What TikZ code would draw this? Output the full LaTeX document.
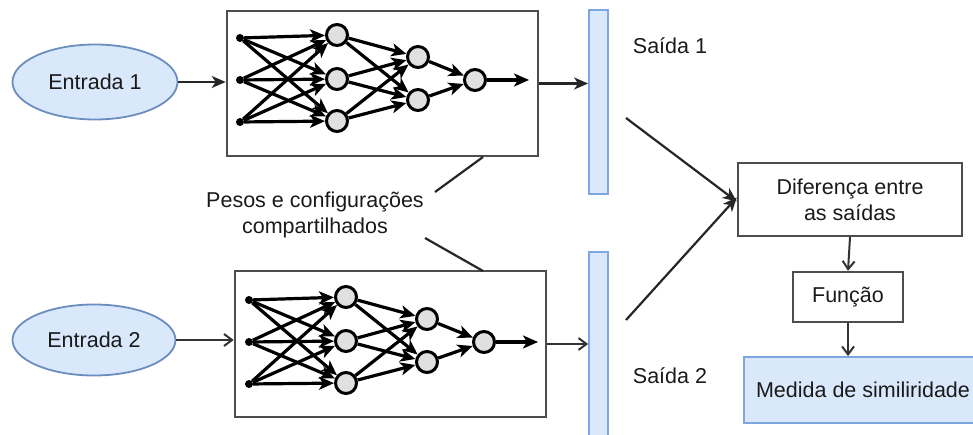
\documentclass[tikz,border=0pt]{standalone}
\usepackage{fontspec}
\setmainfont{Liberation Sans}
\usetikzlibrary{arrows.meta,shapes.geometric}
\definecolor{lblue}{HTML}{DAE8FC}
\definecolor{bblue}{HTML}{7EA6E0}
\definecolor{eblue}{HTML}{6C8EBF}
\definecolor{boxgray}{HTML}{4D4D4D}
\definecolor{txt}{HTML}{1A1A1A}
\tikzset{
  lbl/.style={font=\fontsize{21.5}{26}\selectfont, text=txt, align=center},
  entry/.style={ellipse, draw=eblue, fill=lblue, line width=1.8pt, inner sep=0pt, lbl},
  netbox/.style={rectangle, draw=boxgray, line width=2.6pt, inner sep=0pt},
  outbar/.style={rectangle, draw=bblue, fill=lblue, line width=1.8pt, inner sep=0pt},
  procbox/.style={rectangle, draw=boxgray, line width=2.4pt, inner sep=0pt, lbl},
  resbox/.style={rectangle, draw=bblue, fill=lblue, line width=1.8pt, inner sep=0pt, lbl},
  neuron/.style={circle, draw=black, fill=black!12, line width=3pt, minimum size=21pt, inner sep=0pt},
  indot/.style={circle, fill=black, minimum size=8pt, inner sep=0pt},
  nnarrow/.style={line width=3.2pt, -{Stealth[length=15pt,width=13pt,inset=4pt]}},
  conn/.style={line width=2.2pt, draw=black!85, -{Stealth[length=14pt,width=12pt,inset=4pt]}},
  openconn/.style={line width=2pt, draw=black!80, -{Straight Barb[length=8pt,width=12pt]}},
  plain/.style={line width=2.2pt, draw=black!85},
}
\newcommand{\neuralnet}[1]{%
  \foreach \i/\yy in {1/38,2/80,3/122} \node[indot] (#1i\i) at (240,\yy) {};
  \foreach \i/\yy in {1/35,2/79,3/121} \node[neuron] (#1h\i) at (337,\yy) {};
  \foreach \i/\yy in {1/57,2/100} \node[neuron] (#1g\i) at (418,\yy) {};
  \node[neuron] (#1o) at (475,80) {};
  \coordinate (#1end) at (529,80);
  \foreach \a in {1,2,3} {\foreach \b in {1,2,3} {\draw[nnarrow] (#1i\a) -- (#1h\b);}}
  \foreach \a in {1,2,3} {\foreach \b in {1,2} {\draw[nnarrow] (#1h\a) -- (#1g\b);}}
  \foreach \a in {1,2} {\draw[nnarrow] (#1g\a) -- (#1o);}
  \draw[nnarrow] (#1o) -- (#1end);
}
\begin{document}
\begin{tikzpicture}[x=1pt,y=-1pt]
\useasboundingbox (0,0) rectangle (973,435);
% inputs
\node[entry, minimum width=165pt, minimum height=75pt] (e1) at (95,82) {Entrada 1};
\node[entry, minimum width=163pt, minimum height=71pt] (e2) at (94,340) {Entrada 2};
% network boxes
\node[netbox, minimum width=311pt, minimum height=145pt] (tb) at (382.5,83.5) {};
\node[netbox, minimum width=311pt, minimum height=146pt] (bb) at (390.5,344) {};
\neuralnet{t}
\begin{scope}[shift={(9,262)}]
\neuralnet{b}
\end{scope}
% output bars
\node[outbar, minimum width=19pt, minimum height=184pt] (bar1) at (598.5,102) {};
\node[outbar, minimum width=19pt, minimum height=190pt] (bar2) at (598.5,347) {};
\node[lbl] (s1) at (670,46) {Saída 1};
\node[lbl] (s2) at (670,376) {Saída 2};
% shared weights label
\node[lbl] (pesos) at (315,215) {Pesos e configurações\\compartilhados};
\coordinate (pa) at (483,157);
\coordinate (pb) at (435,192);
\coordinate (pc) at (425,238);
\coordinate (pd) at (483,271);
\draw[plain] (pa) -- (pb);
\draw[plain] (pc) -- (pd);
% right side boxes
\node[procbox, minimum width=224pt, minimum height=73pt] (dif) at (850,199.5) {Diferença entre\\as saídas};
\node[procbox, minimum width=110pt, minimum height=50pt] (func) at (848,297) {Função};
\node[resbox, minimum width=238pt, minimum height=66pt] (med) at (863,390) {Medida de similiridade};
% connectors
\draw[conn] (e1.east) -- (e1.east -| tb.west);
\draw[openconn] (e2.east) -- (e2.east -| bb.west);
\draw[conn] (tb.east) -- (tb.east -| bar1.west);
\draw[openconn] (bb.east) -- (bb.east -| bar2.west);
\coordinate (d1) at (626,118);
\coordinate (d2) at (626,320);
\draw[conn] (d1) -- ([yshift=-2pt]dif.west);
\draw[conn] (d2) -- ([yshift=2pt]dif.west);
\draw[openconn] (dif.south) -- (func.north);
\draw[openconn] (func.south) -- (func.south |- med.north);
\end{tikzpicture}
\end{document}
